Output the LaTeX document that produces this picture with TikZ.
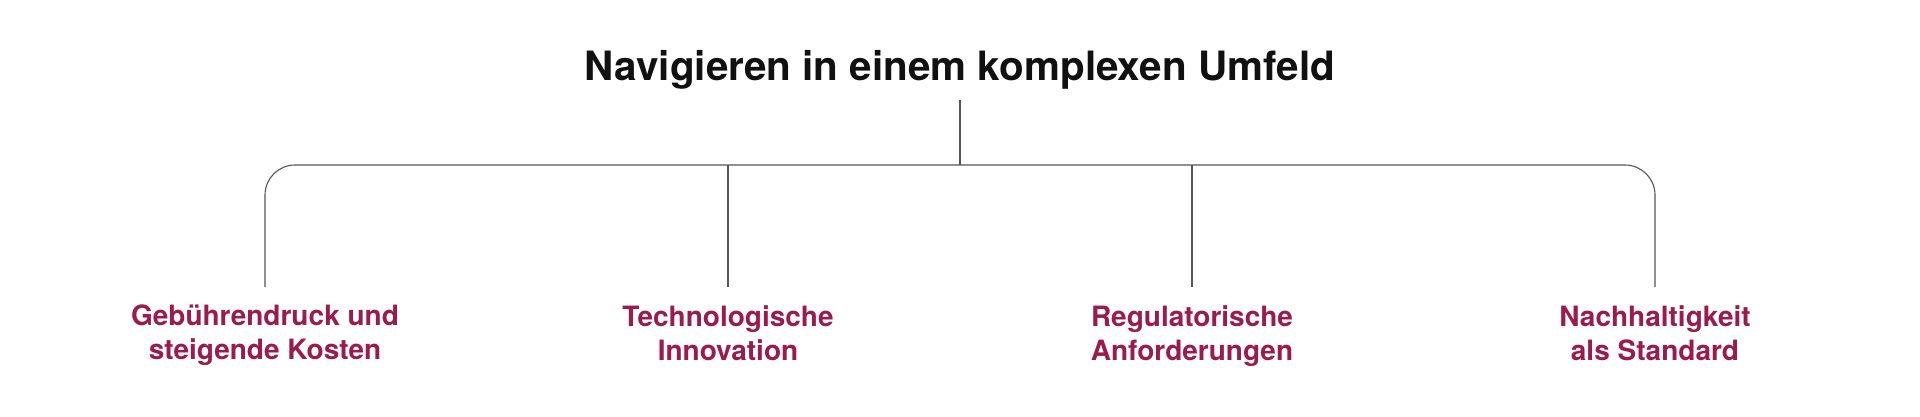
\documentclass[tikz,border=0pt]{standalone}
\usepackage{fontspec}
\setmainfont{TeX Gyre Heros}
\definecolor{maroon}{RGB}{155,27,77}
\definecolor{ink}{RGB}{17,17,17}
\definecolor{stroke}{RGB}{85,85,85}
\tikzset{
  titletext/.style={anchor=base,inner sep=0pt,text=ink,font=\fontsize{40.4}{48}\selectfont\bfseries},
  leaftext/.style={anchor=north,inner sep=0pt,align=center,text=maroon,font=\fontsize{28}{34}\selectfont\bfseries},
  branch/.style={draw=stroke,line width=1.1pt}
}
\begin{document}
\begin{tikzpicture}[x=1pt,y=1pt,yscale=-1,xscale=1]
\useasboundingbox (0,0) rectangle (1920,416);

% Text Node
\node (title) [titletext] at (960,80) {Navigieren in einem komplexen Umfeld};

%Straight Lines
\coordinate (stem) at (960,100);
\coordinate (hub) at (960,165);
\coordinate (b1) at (265,287);
\coordinate (b2) at (728,287);
\coordinate (b3) at (1192,287);
\coordinate (b4) at (1655,287);
\draw [branch] (stem) -- (hub);
%Rounded bracket
\draw [branch, rounded corners=30pt] (b1) |- (hub) -| (b4);
\draw [branch] (b2 |- hub) -- (b2);
\draw [branch] (b3 |- hub) -- (b3);

% Text Node
\node (kosten) [leaftext] at (265,305) {Gebührendruck und\\steigende Kosten};
% Text Node
\node (innovation) [leaftext] at (728,305) {Technologische\\Innovation};
% Text Node
\node (regulierung) [leaftext] at (1192,305) {Regulatorische\\Anforderungen};
% Text Node
\node (nachhaltig) [leaftext] at (1655,305) {Nachhaltigkeit\\als Standard};

\end{tikzpicture}
\end{document}
